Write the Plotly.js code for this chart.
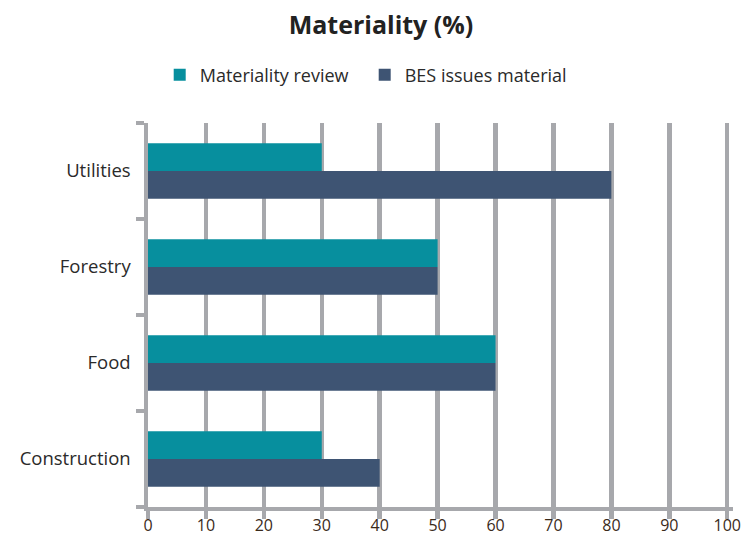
<!DOCTYPE html>
<html><head><meta charset="utf-8">
<script src="https://cdn.plot.ly/plotly-3.0.1.min.js"></script>
<style>html,body{margin:0;padding:0;background:#fff}#chart{width:747px;height:539px}</style>
</head><body><div id="chart"></div>
<script>
const categories = ["Construction", "Food", "Forestry", "Utilities"];
const seriesNames = ["Materiality review", "BES issues material"];
const materialityReview = [30, 60, 50, 30];
const besIssuesMaterial = [40, 60, 50, 80];
const xTickVals = [0,10,20,30,40,50,60,70,80,90,100];

const grey = "#a7a8ac";
const fontFam = "'Open Sans', Lato, sans-serif";

const traces = [
  {type:"bar", orientation:"h", name:seriesNames[1], y:categories, x:besIssuesMaterial,
   marker:{color:"#3e5473"}, hoverinfo:"x+name"},
  {type:"bar", orientation:"h", name:seriesNames[0], y:categories, x:materialityReview,
   marker:{color:"#078f9e"}, hoverinfo:"x+name"}
];

const layout = {
  width:747, height:539,
  margin:{l:148, r:14, t:123, b:32},
  paper_bgcolor:"#fff", plot_bgcolor:"#fff",
  font:{family:fontFam, color:"#2a2a2a", size:16},
  title:{text:"<b>Materiality (%)</b>", x:0.51, xanchor:"center", y:0.953, yanchor:"middle",
         font:{family:fontFam, size:25, color:"#222"}},
  barmode:"group", bargap:0.42, bargroupgap:0,
  showlegend:true,
  legend:{orientation:"h", traceorder:"reversed", x:0.02, xanchor:"left", y:1.125, yanchor:"middle",
          font:{family:fontFam, size:18, color:"#2a2a2a"}, entrywidth:160, itemsizing:"constant"},
  xaxis:{range:[0,101], tickvals:xTickVals, ticktext:xTickVals.map(String),
         showgrid:true, gridcolor:grey, gridwidth:4.5, zeroline:false,
         showline:true, linecolor:grey, linewidth:4,
         ticks:"outside", ticklen:8, tickwidth:4.5, tickcolor:grey, ticklabelstandoff:-7,
         tickfont:{family:fontFam, size:16, color:"#3a2a1a"}, fixedrange:true},
  yaxis:{categoryorder:"array", categoryarray:categories, type:"category",
         showgrid:false, zeroline:false, showline:true, linecolor:grey, linewidth:4,
         ticks:"outside", tickson:"boundaries", ticklen:8, tickwidth:4, tickcolor:grey,
         tickfont:{family:fontFam, size:18.5, color:"#2a2a2a"}, ticksuffix:"  ", fixedrange:true}
};
Plotly.newPlot("chart", traces, layout, {displayModeBar:false, staticPlot:true});
</script></body></html>
